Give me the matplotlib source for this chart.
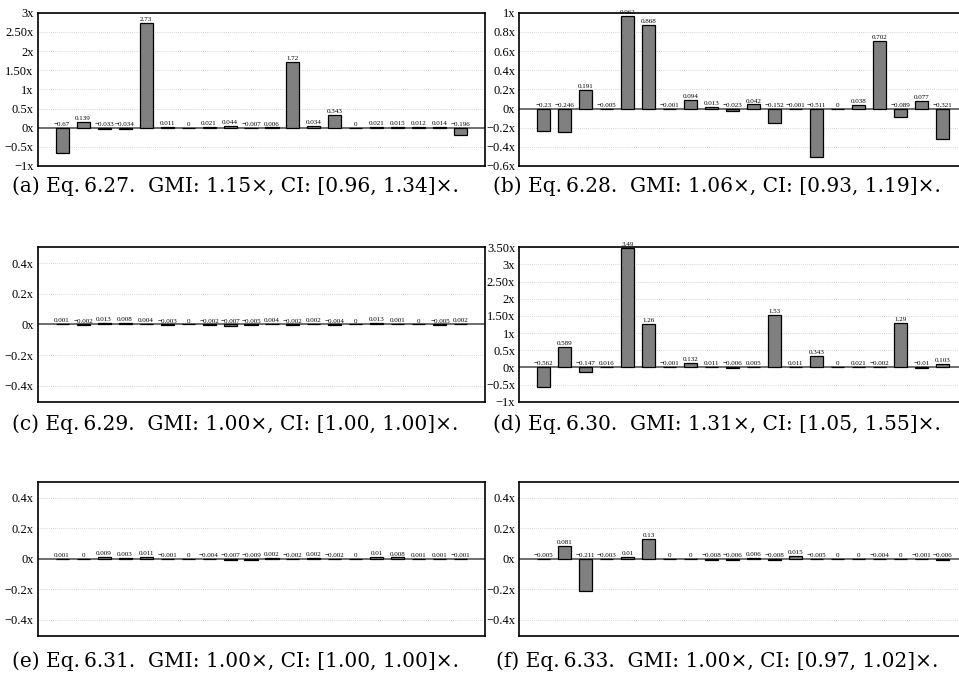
import matplotlib
matplotlib.use('Agg')
import matplotlib.pyplot as plt

plt.rcParams['font.family'] = ['Liberation Serif', 'DejaVu Serif']

# speedup values per panel (20 bars each)
vals_a = [-0.67, 0.139, -0.033, -0.034, 2.73, 0.011, 0, 0.021, 0.044, -0.007,
          0.006, 1.72, 0.034, 0.343, 0, 0.021, 0.015, 0.012, 0.014, -0.196]
vals_b = [-0.23, -0.246, 0.191, -0.005, 0.962, 0.868, -0.001, 0.094, 0.013, -0.023,
          0.042, -0.152, -0.001, -0.511, 0, 0.038, 0.702, -0.089, 0.077, -0.321]
vals_c = [0.001, -0.002, 0.013, 0.008, 0.004, -0.003, 0, -0.002, -0.007, -0.005,
          0.004, -0.002, 0.002, -0.004, 0, 0.013, 0.001, 0, -0.005, 0.002]
vals_d = [-0.562, 0.589, -0.147, 0.016, 3.49, 1.26, -0.001, 0.132, 0.011, -0.006,
          0.005, 1.53, 0.011, 0.343, 0, 0.021, -0.002, 1.29, -0.01, 0.103]
vals_e = [0.001, 0, 0.009, 0.003, 0.011, -0.001, 0, -0.004, -0.007, -0.009,
          0.002, -0.002, 0.002, -0.002, 0, 0.01, 0.008, 0.001, 0.001, -0.001]
vals_f = [-0.005, 0.081, -0.211, -0.003, 0.01, 0.13, 0, 0, -0.008, -0.006,
          0.006, -0.008, 0.015, -0.005, 0, 0, -0.004, 0, -0.001, -0.006]

# y ticks and their labels
ticks_a = [-1, -0.5, 0, 0.5, 1, 1.5, 2, 2.5, 3]
tlabels_a = ['−1x', '−0.5x', '0x', '0.5x', '1x', '1.50x', '2x', '2.50x', '3x']
ticks_b = [-0.6, -0.4, -0.2, 0, 0.2, 0.4, 0.6, 0.8, 1]
tlabels_b = ['−0.6x', '−0.4x', '−0.2x', '0x', '0.2x', '0.4x', '0.6x', '0.8x', '1x']
ticks_small = [-0.4, -0.2, 0, 0.2, 0.4]
tlabels_small = ['−0.4x', '−0.2x', '0x', '0.2x', '0.4x']
ticks_d = [-1, -0.5, 0, 0.5, 1, 1.5, 2, 2.5, 3, 3.5]
tlabels_d = ['−1x', '−0.5x', '0x', '0.5x', '1x', '1.50x', '2x', '2.50x', '3x', '3.50x']

captions = [
    '(a) Eq.\u20096.27.  GMI: 1.15×, CI: [0.96, 1.34]×.',
    '(b) Eq.\u20096.28.  GMI: 1.06×, CI: [0.93, 1.19]×.',
    '(c) Eq.\u20096.29.  GMI: 1.00×, CI: [1.00, 1.00]×.',
    '(d) Eq.\u20096.30.  GMI: 1.31×, CI: [1.05, 1.55]×.',
    '(e) Eq.\u20096.31.  GMI: 1.00×, CI: [1.00, 1.00]×.',
    '(f) Eq.\u20096.33.  GMI: 1.00×, CI: [0.97, 1.02]×.',
]

W, H = 959, 678
fig = plt.figure(figsize=(W / 100, H / 100), dpi=100)


def px_axes(left, top, right, bottom):
    return fig.add_axes([left / W, 1 - bottom / H, (right - left) / W, (bottom - top) / H])


def fmt(v):
    return f'{v:g}'.replace('-', '−')


def draw_panel(ax, vals, ticks, tlabels, ylim):
    n = len(vals)
    xs = list(range(n))
    ax.bar(xs, vals, width=0.62, color='#808080', edgecolor='black', linewidth=0.9, zorder=3)
    ax.axhline(0, color='#555555', linewidth=1.2, zorder=2)
    for t in ticks:
        if t != 0:
            ax.axhline(t, color='#c8c8c8', linewidth=0.6, linestyle=(0, (1, 1.5)), zorder=1)
    span = ylim[1] - ylim[0]
    for x, v in zip(xs, vals):
        ax.text(x, max(v, 0) + span * 0.006, fmt(v), ha='center', va='bottom',
                fontsize=5, zorder=4)
    ax.set_xlim(-1.16, n - 1 + 1.16)
    ax.set_ylim(*ylim)
    ax.set_xticks([])
    ax.set_yticks(ticks)
    ax.set_yticklabels(tlabels)
    ax.tick_params(axis='y', length=0, pad=3, labelsize=9)
    for s in ax.spines.values():
        s.set_linewidth(1.2)


cols = [(37.7, 485.3), (519.3, 966.9)]
rows = [(12.7, 166.0), (247.3, 401.7), (481.7, 635.7)]
panels = [
    (vals_a, ticks_a, tlabels_a, (-1, 3)),
    (vals_b, ticks_b, tlabels_b, (-0.6, 1)),
    (vals_c, ticks_small, tlabels_small, (-0.505, 0.505)),
    (vals_d, ticks_d, tlabels_d, (-1, 3.5)),
    (vals_e, ticks_small, tlabels_small, (-0.505, 0.505)),
    (vals_f, ticks_small, tlabels_small, (-0.505, 0.505)),
]
caption_y = [186, 424, 661]
caption_x = [235, 717]

for i, (vals, ticks, tlabels, ylim) in enumerate(panels):
    r, c = divmod(i, 2)
    ax = px_axes(cols[c][0], rows[r][0], cols[c][1], rows[r][1])
    draw_panel(ax, vals, ticks, tlabels, ylim)
    fig.text(caption_x[c] / W, 1 - caption_y[r] / H, captions[i], ha='center', va='center',
             fontsize=14.5, family='DejaVu Serif')

fig.savefig('out.png', dpi=100)
